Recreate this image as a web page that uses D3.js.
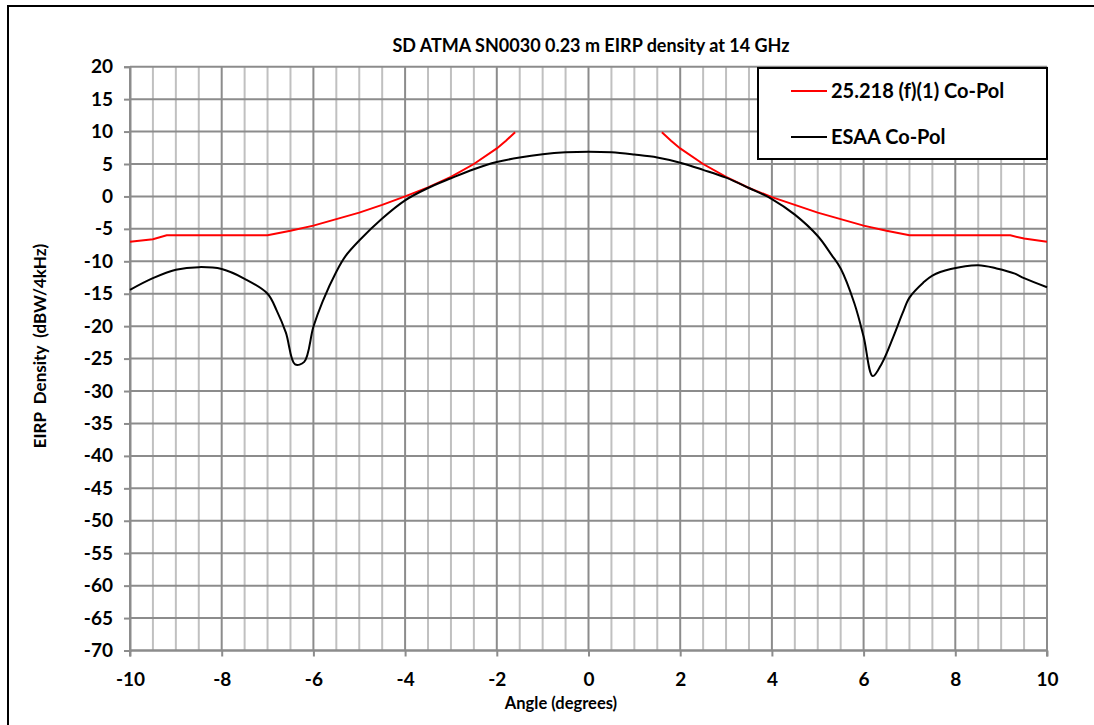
<!DOCTYPE html>
<html>
<head>
<meta charset="utf-8">
<script src="https://cdn.jsdelivr.net/npm/d3@7"></script>
<style>
  body { margin: 0; background: #fff; }
  text { font-family: Lato, "Open Sans", sans-serif; font-weight: bold; fill: #000; }
</style>
</head>
<body>
<div id="chart"></div>
<script>
// Data: [angle (deg), EIRP density (dBW/4kHz)]
const maskLeft = [
  [-10, -7.0], [-9.5, -6.6], [-9.2, -6.0], [-7.0, -6.0], [-6.5, -5.3], [-6.0, -4.5],
  [-5.5, -3.5], [-5.0, -2.5], [-4.5, -1.3], [-4.0, 0.0], [-3.5, 1.4], [-3.0, 3.0],
  [-2.5, 5.0], [-2.0, 7.4], [-1.8, 8.6], [-1.6, 9.9]
];
const maskRight = [
  [1.6, 9.9], [1.8, 8.6], [2.0, 7.4], [2.5, 5.0], [3.0, 3.0], [3.5, 1.3], [4.0, -0.1],
  [4.5, -1.3], [5.0, -2.5], [5.5, -3.5], [6.0, -4.5], [6.5, -5.3], [7.0, -6.0],
  [9.2, -6.0], [9.5, -6.5], [10, -7.0]
];
const esaa = [
  [-10, -14.4], [-9.5, -12.6], [-9.0, -11.3], [-8.5, -10.9], [-8.0, -11.2], [-7.5, -12.7],
  [-7.0, -15.0], [-6.8, -17.6], [-6.6, -21.0], [-6.4, -25.9], [-6.2, -25.5], [-6.0, -20.1],
  [-5.8, -16.2], [-5.5, -11.6], [-5.3, -9.2], [-5.0, -6.8], [-4.5, -3.4], [-4.0, -0.6],
  [-3.5, 1.3], [-3.0, 2.8], [-2.5, 4.2], [-2.0, 5.3], [-1.5, 6.0], [-1.0, 6.5], [-0.5, 6.8],
  [0, 6.9], [0.5, 6.8], [1.0, 6.45], [1.5, 6.0], [2.0, 5.2], [2.5, 4.1], [3.0, 2.9],
  [3.5, 1.3], [4.0, -0.4], [4.5, -2.8], [5.0, -6.1], [5.3, -9.0], [5.5, -11.1], [5.8, -16.5],
  [6.0, -21.6], [6.2, -27.7], [6.4, -25.7], [6.65, -21.6], [6.85, -18.0], [7.0, -15.6],
  [7.3, -13.3], [7.5, -12.2], [7.9, -11.2], [8.5, -10.6], [8.9, -11.1], [9.3, -11.9],
  [9.5, -12.6], [10, -14.0]
];
const xTicks = [-10, -8, -6, -4, -2, 0, 2, 4, 6, 8, 10];
const yTicks = d3.range(-70, 21, 5);
const seriesNames = ["25.218 (f)(1) Co-Pol", "ESAA Co-Pol"];

const W = 1094, H = 725;
const plot = { left: 130, right: 1047, top: 66.7, bottom: 650.5 };

const svg = d3.select("#chart").append("svg")
  .attr("width", W)
  .attr("height", H);

// outer frame
svg.append("rect")
  .attr("x", 8).attr("y", 6)
  .attr("width", 1100).attr("height", 740)
  .attr("fill", "none").attr("stroke", "#000").attr("stroke-width", 2);

const x = d3.scaleLinear().domain([-10, 10]).range([plot.left, plot.right]);
const y = d3.scaleLinear().domain([-70, 20]).range([plot.bottom, plot.top]);

// minor vertical grid every 0.5 deg
svg.append("g")
  .selectAll("line")
  .data(d3.range(-10, 10.01, 0.5).filter(v => Math.abs(v % 2) > 0.01))
  .join("line")
  .attr("x1", d => x(d)).attr("x2", d => x(d))
  .attr("y1", plot.top).attr("y2", plot.bottom)
  .attr("stroke", "#c0c0c0").attr("stroke-width", 2);

// major vertical grid
svg.append("g")
  .selectAll("line")
  .data(xTicks)
  .join("line")
  .attr("x1", d => x(d)).attr("x2", d => x(d))
  .attr("y1", plot.top).attr("y2", plot.bottom)
  .attr("stroke", "#8c8c8c").attr("stroke-width", 2);

// horizontal grid
svg.append("g")
  .selectAll("line")
  .data(yTicks)
  .join("line")
  .attr("x1", plot.left).attr("x2", plot.right)
  .attr("y1", d => y(d)).attr("y2", d => y(d))
  .attr("stroke", "#8c8c8c").attr("stroke-width", 2);

// axes (plain hyphen for negatives, like the original)
const fmt = d => String(d);
const xAxis = d3.axisBottom(x).tickValues(xTicks).tickSize(6).tickPadding(16).tickFormat(fmt);
const yAxis = d3.axisLeft(y).tickValues(yTicks).tickSize(6).tickPadding(11).tickFormat(fmt);

const gx = svg.append("g")
  .attr("transform", `translate(0,${plot.bottom})`)
  .call(xAxis);
const gy = svg.append("g")
  .attr("transform", `translate(${plot.left},0)`)
  .call(yAxis);

[gx, gy].forEach(g => {
  g.select(".domain").attr("stroke", "#8c8c8c").attr("stroke-width", 2);
  g.selectAll(".tick line").attr("stroke", "#8c8c8c").attr("stroke-width", 2);
  g.selectAll(".tick text")
    .attr("font-family", "Lato, 'Open Sans', sans-serif")
    .attr("font-weight", "bold")
    .attr("font-size", 19)
    .attr("fill", "#000");
});
gx.select(".domain").attr("d", `M${plot.left},6V0H${plot.right}V6`);

// series
const line = d3.line().x(d => x(d[0])).y(d => y(d[1]));
const smooth = d3.line().x(d => x(d[0])).y(d => y(d[1])).curve(d3.curveCatmullRom.alpha(0.5));

[maskLeft, maskRight].forEach(s => {
  svg.append("path")
    .datum(s)
    .attr("d", line)
    .attr("fill", "none")
    .attr("stroke", "#ff0000")
    .attr("stroke-width", 2);
});
svg.append("path")
  .datum(esaa)
  .attr("d", smooth)
  .attr("fill", "none")
  .attr("stroke", "#000")
  .attr("stroke-width", 2);

// title
svg.append("text")
  .attr("x", 591).attr("y", 52)
  .attr("text-anchor", "middle")
  .attr("font-size", 18)
  .text("SD ATMA SN0030 0.23 m EIRP density at 14 GHz");

// axis titles
svg.append("text")
  .attr("x", 561).attr("y", 709)
  .attr("text-anchor", "middle")
  .attr("font-size", 16.5)
  .text("Angle (degrees)");

svg.append("text")
  .attr("transform", "translate(46,346) rotate(-90)")
  .attr("text-anchor", "middle")
  .attr("font-size", 17)
  .attr("xml:space", "preserve")
  .style("white-space", "pre")
  .text("EIRP  Density  (dBW/4kHz)");

// legend
const legend = svg.append("g");
legend.append("rect")
  .attr("x", 758).attr("y", 68)
  .attr("width", 289).attr("height", 91)
  .attr("fill", "#fff").attr("stroke", "#000").attr("stroke-width", 2);

const legendColors = ["#ff0000", "#000"];
seriesNames.forEach((name, i) => {
  const ly = 91 + i * 46;
  legend.append("line")
    .attr("x1", 791).attr("x2", 827)
    .attr("y1", ly).attr("y2", ly)
    .attr("stroke", legendColors[i]).attr("stroke-width", 2);
  legend.append("text")
    .attr("x", 831).attr("y", ly + 7)
    .attr("font-size", 20)
    .text(name);
});
</script>
</body>
</html>
